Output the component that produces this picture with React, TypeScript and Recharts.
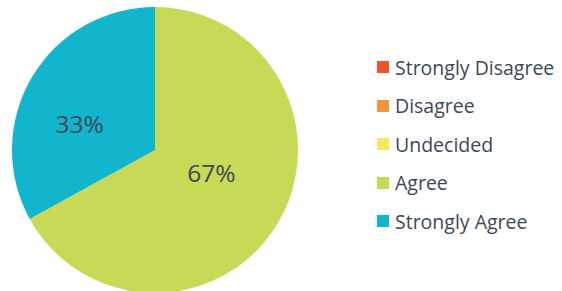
import React from "react";
import { PieChart, Pie, Cell, Legend } from "recharts";

const categories = ["Strongly Disagree", "Disagree", "Undecided", "Agree", "Strongly Agree"];
const values = [0, 0, 0, 67, 33];
const colors = ["#f0522a", "#f7923d", "#fce35c", "#c8d957", "#12b6cc"];

const data = categories.map((name, i) => ({ name, value: values[i] }));

const RAD = Math.PI / 180;

const renderLabel = (props: any) => {
  const { cx, cy, midAngle, outerRadius, value, percent } = props;
  if (!value) return null;
  const kx = 0.76 - 0.45 * percent;
  const ky = 0.42 - 0.16 * percent;
  const x = cx + outerRadius * kx * Math.cos(-midAngle * RAD);
  const y = cy + outerRadius * ky * Math.sin(-midAngle * RAD);
  return (
    <text
      x={x}
      y={y}
      fill="#3b4858"
      fontSize={24.5}
      fontFamily="'Open Sans', sans-serif"
      textAnchor="middle"
      dominantBaseline="central"
    >
      {`${value}%`}
    </text>
  );
};

const renderLegend = (props: any) => {
  const payload = [...(props.payload || [])].sort(
    (a: any, b: any) => categories.indexOf(a.value) - categories.indexOf(b.value)
  );
  return (
    <div style={{ fontFamily: "'Open Sans', sans-serif" }}>
      {payload.map((entry: any, i: number) => (
        <div
          key={i}
          style={{ display: "flex", alignItems: "center", height: 38.5 }}
        >
          <div
            style={{
              width: 12,
              height: 12,
              background: entry.color,
              marginRight: 6,
            }}
          />
          <span style={{ fontSize: 19.5, color: "#3b4858", whiteSpace: "nowrap" }}>
            {entry.value}
          </span>
        </div>
      ))}
    </div>
  );
};

export default function App() {
  return (
    <div style={{ position: "absolute", left: 0, top: 0, background: "#fff" }}>
      <PieChart width={562} height={291}>
        <Pie
          data={data}
          dataKey="value"
          nameKey="name"
          cx={150}
          cy={145}
          outerRadius={143}
          startAngle={90}
          endAngle={-270}
          stroke="none"
          label={renderLabel}
          labelLine={false}
          isAnimationActive={false}
        >
          {data.map((d, i) => (
            <Cell key={d.name} fill={colors[i]} />
          ))}
        </Pie>
        <Legend
          layout="vertical"
          content={renderLegend}
          wrapperStyle={{ left: 377, top: 48, width: 185 }}
        />
      </PieChart>
    </div>
  );
}
